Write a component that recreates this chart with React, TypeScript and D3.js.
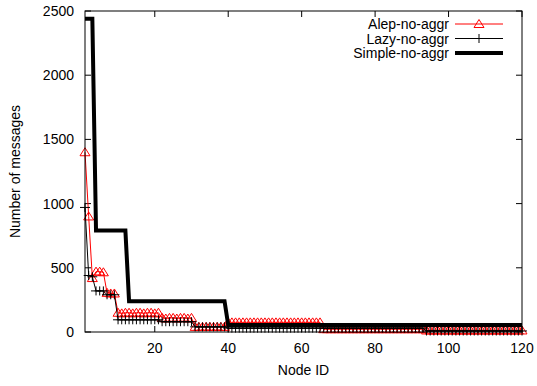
import { useEffect, useRef } from "react";
import * as d3 from "d3";

// values per node (node ids 1..120)
const alep = [
  1400, 900, 420, 470, 470, 465, 305, 300, 300,
  150, 145, 150, 150, 145, 150, 150, 145, 150, 150, 145, 150,
  110, 105, 110, 110, 105, 110, 110, 105, 110,
  40, 40, 40, 40, 40, 40, 40, 40, 40,
  75, 75, 75, 75, 75, 75, 75, 75, 75, 75, 75, 75, 75, 75, 75, 75, 75, 75, 75, 75, 75, 75, 75, 75, 75, 75,
  22, 22, 22, 22, 22, 22, 22, 22, 22, 22, 22, 22, 22, 22, 22, 22, 22, 22, 22, 22, 22, 22, 22, 22, 22, 22, 22, 22,
  12, 12, 12, 12, 12, 12, 12, 12, 12, 12, 12, 12, 12, 12, 12, 12, 12, 12, 12, 12, 12, 12, 12, 12, 12, 12, 12,
];

const lazy = [
  970, 440, 430, 320, 320, 320, 290, 290, 290,
  95, 95, 95, 95, 95, 95, 95, 95, 95, 95, 95, 95,
  80, 80, 80, 80, 80, 80, 80, 80, 80,
  40, 40, 40, 40, 40, 40, 40, 40, 40,
  30, 30, 30, 30, 30, 30, 30, 30, 30, 30, 30, 30, 30, 30, 30, 30, 30, 30, 30, 30, 30, 30, 30, 30, 30, 30, 30,
  30, 30, 30, 30, 30, 30, 30, 30, 30, 30, 30, 30, 30, 30, 30, 30, 30, 30, 30, 30, 30, 30, 30, 30, 30, 30, 30,
  8, 8, 8, 8, 8, 8, 8, 8, 8, 8, 8, 8, 8, 8, 8, 8, 8, 8, 8, 8, 8, 8, 8, 8, 8, 8, 8,
];

const simple = [
  2440, 2440, 2440,
  790, 790, 790, 790, 790, 790, 790, 790, 790,
  240, 240, 240, 240, 240, 240, 240, 240, 240, 240, 240, 240, 240, 240, 240, 240, 240, 240, 240, 240, 240, 240, 240, 240, 240, 240, 240,
  55, 55, 55, 55, 55, 55, 55, 55, 55, 55, 55, 55, 55, 55, 55, 55, 55, 55, 55, 55,
  55, 55, 55, 55, 55, 55, 55, 55, 55, 55, 55, 55, 55, 55, 55, 55, 55, 55, 55, 55,
  55, 55, 55, 55, 55, 55, 55, 55, 55, 55, 55, 55, 55, 55, 55, 55, 55, 55, 55, 55,
  55, 55, 55, 55, 55, 55, 55, 55, 55, 55, 55, 55, 55, 55, 55, 55, 55, 55, 55, 55, 55,
];

const xTicks = [20, 40, 60, 80, 100, 120];
const yTicks = [0, 500, 1000, 1500, 2000, 2500];
const seriesNames = ["Alep-no-aggr", "Lazy-no-aggr", "Simple-no-aggr"];

const App = () => {
  const svgRef = useRef<SVGSVGElement>(null);

  useEffect(() => {
    const width = 537;
    const height = 386;
    const marginTop = 11;
    const marginRight = 15;
    const marginBottom = 54;
    const marginLeft = 85;
    const font = "'Liberation Sans', Arial, sans-serif";
    const fontSize = 14;

    const svg = d3.select(svgRef.current);
    svg.selectAll("*").remove();

    const x = d3.scaleLinear()
        .domain([1, 120])
        .range([marginLeft, width - marginRight]);

    const y = d3.scaleLinear()
        .domain([0, 2500])
        .range([height - marginBottom, marginTop]);

    const ids = d3.range(1, 121);
    const line = d3.line<number>()
        .x((_, i) => x(ids[i]))
        .y(d => y(d));

    const tickLen = 6;
    const g = svg.append("g").attr("font-family", font).attr("font-size", fontSize);

    // mirrored inward ticks, gnuplot style
    yTicks.forEach(t => {
      g.append("line").attr("x1", x.range()[0]).attr("x2", x.range()[0] + tickLen)
          .attr("y1", y(t)).attr("y2", y(t)).attr("stroke", "#000");
      g.append("line").attr("x1", x.range()[1]).attr("x2", x.range()[1] - tickLen)
          .attr("y1", y(t)).attr("y2", y(t)).attr("stroke", "#000");
      g.append("text").attr("x", marginLeft - 11).attr("y", y(t) + 5)
          .attr("text-anchor", "end").text(t);
    });
    xTicks.forEach(t => {
      g.append("line").attr("x1", x(t)).attr("x2", x(t))
          .attr("y1", y.range()[0]).attr("y2", y.range()[0] - tickLen).attr("stroke", "#000");
      g.append("line").attr("x1", x(t)).attr("x2", x(t))
          .attr("y1", y.range()[1]).attr("y2", y.range()[1] + tickLen).attr("stroke", "#000");
      g.append("text").attr("x", x(t)).attr("y", height - marginBottom + 21)
          .attr("text-anchor", "middle").text(t);
    });

    g.append("text")
        .attr("x", (marginLeft + width - marginRight) / 2)
        .attr("y", height - 11)
        .attr("text-anchor", "middle")
        .text("Node ID");

    g.append("text")
        .attr("transform", `translate(20,${(marginTop + height - marginBottom) / 2}) rotate(-90)`)
        .attr("text-anchor", "middle")
        .text("Number of messages");

    const triangle = "M0,-4.5L5,3.5L-5,3.5Z";
    const plus = "M-5,0H5M0,-4.5V4.5";

    // Alep: red line with open triangles
    g.append("path").datum(alep).attr("d", line)
        .attr("fill", "none").attr("stroke", "#f00").attr("stroke-width", 1);
    g.append("g").selectAll("path").data(alep).join("path")
        .attr("transform", (d, i) => `translate(${x(ids[i])},${y(d)})`)
        .attr("d", triangle).attr("fill", "none").attr("stroke", "#f00");

    // Lazy: thin black line with plus marks
    g.append("path").datum(lazy).attr("d", line)
        .attr("fill", "none").attr("stroke", "#000").attr("stroke-width", 1);
    g.append("g").selectAll("path").data(lazy).join("path")
        .attr("transform", (d, i) => `translate(${x(ids[i])},${y(d)})`)
        .attr("d", plus).attr("fill", "none").attr("stroke", "#000");

    // Simple: thick black line
    g.append("path").datum(simple).attr("d", line)
        .attr("fill", "none").attr("stroke", "#000").attr("stroke-width", 4);

    // legend
    const legX = 449;
    const sampleX0 = 455;
    const sampleX1 = 503;
    const rows = [24, 38.5, 53];
    seriesNames.forEach((name, i) => {
      g.append("text").attr("x", legX).attr("y", rows[i] + 5)
          .attr("text-anchor", "end").text(name);
      g.append("line").attr("x1", sampleX0).attr("x2", sampleX1)
          .attr("y1", rows[i]).attr("y2", rows[i])
          .attr("stroke", i === 0 ? "#f00" : "#000")
          .attr("stroke-width", i === 2 ? 4 : 1);
      const mx = (sampleX0 + sampleX1) / 2;
      if (i === 0) {
        g.append("path").attr("transform", `translate(${mx},${rows[i]})`)
            .attr("d", triangle).attr("fill", "none").attr("stroke", "#f00");
      } else if (i === 1) {
        g.append("path").attr("transform", `translate(${mx},${rows[i]})`)
            .attr("d", plus).attr("fill", "none").attr("stroke", "#000");
      }
    });

    // frame
    g.append("rect")
        .attr("x", marginLeft).attr("y", marginTop)
        .attr("width", width - marginRight - marginLeft)
        .attr("height", height - marginBottom - marginTop)
        .attr("fill", "none").attr("stroke", "#000");
  }, []);

  return (
    <svg
      ref={svgRef}
      width={537}
      height={386}
      style={{ position: "absolute", left: 0, top: 0, background: "#fff" }}
    />
  );
};

export default App;
